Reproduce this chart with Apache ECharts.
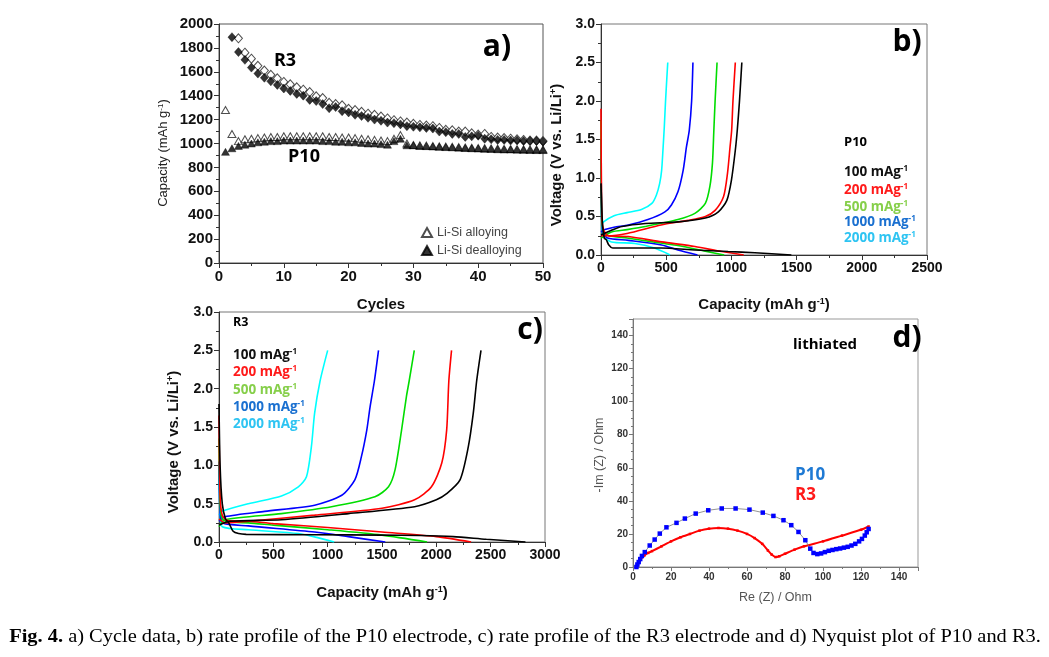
<!DOCTYPE html>
<html><head><meta charset="utf-8">
<script src="https://cdn.jsdelivr.net/npm/echarts@6/dist/echarts.min.js"></script>
<style>html,body{margin:0;padding:0;background:#fff}#c{width:1049px;height:657px}</style>
</head><body><div id="c"></div>
<script>
// ---------- Panel a: cycle data ----------
const cycles = [1,2,3,4,5,6,7,8,9,10,11,12,13,14,15,16,17,18,19,20,21,22,23,24,25,26,27,28,29,30,31,32,33,34,35,36,37,38,39,40,41,42,43,44,45,46,47,48,49,50];
const r3Alloying = [null,null,1880,1760,1710,1650,1610,1575,1545,1515,1495,1470,1450,1430,1395,1380,1340,1330,1320,1290,1280,1265,1250,1240,1225,1210,1195,1185,1175,1165,1155,1150,1145,1130,1115,1110,1100,1100,1085,1075,1080,1055,1050,1045,1040,1035,1030,1025,1025,1020];
const r3Dealloying = [null,1890,1765,1700,1635,1585,1550,1520,1490,1460,1440,1415,1400,1365,1355,1330,1295,1305,1270,1260,1240,1230,1215,1200,1190,1175,1170,1160,1145,1140,1135,1130,1125,1100,1095,1080,1080,1055,1060,1065,1040,1035,1030,1030,1025,1025,1020,1020,1020,1015];
const p10Alloying = [1280,1080,1020,1035,1040,1045,1050,1055,1055,1060,1060,1060,1060,1060,1060,1060,1055,1055,1050,1050,1045,1040,1035,1030,1025,1020,1040,1070,1000,988,984,982,979,976,974,972,970,967,965,963,961,959,957,955,954,953,952,951,950,950];
const p10Dealloying = [930,960,980,990,1000,1010,1015,1020,1020,1025,1025,1025,1025,1025,1025,1020,1020,1015,1015,1010,1010,1005,1000,1000,995,990,1020,1040,985,985,980,978,975,972,970,968,965,962,960,958,956,954,952,950,950,948,947,946,945,945];

// ---------- Panel b: P10 rate profile [capacity, voltage] ----------
const p10_100_dis  = [[0,0.93],[10,0.45],[25,0.22],[40,0.2],[60,0.13],[90,0.09],[160,0.09],[460,0.09],[720,0.065],[975,0.045],[1180,0.03],[1460,0.0]];
const p10_100_chg  = [[0,0.26],[80,0.32],[160,0.37],[340,0.41],[590,0.43],[800,0.48],[900,0.56],[965,0.71],[1000,0.97],[1030,1.36],[1045,1.62],[1062,2.0],[1080,2.5]];
const p10_200_dis  = [[0,1.9],[5,0.6],[15,0.35],[55,0.25],[210,0.24],[465,0.17],[720,0.11],[925,0.045],[1095,0.0]];
const p10_200_chg  = [[0,0.25],[50,0.25],[200,0.28],[460,0.39],[670,0.45],[800,0.5],[875,0.58],[940,0.76],[970,1.06],[990,1.41],[1002,1.62],[1012,2.0],[1030,2.5]];
const p10_500_dis  = [[0,1.75],[5,0.5],[20,0.3],[60,0.25],[200,0.22],[400,0.17],[600,0.12],[800,0.05],[945,0.0]];
const p10_500_chg  = [[0,0.22],[80,0.3],[200,0.33],[340,0.37],[590,0.46],[720,0.54],[800,0.67],[835,0.89],[855,1.2],[865,1.6],[875,2.0],[890,2.5]];
const p10_1000_dis = [[0,1.5],[5,0.5],[15,0.3],[50,0.22],[210,0.19],[465,0.13],[590,0.065],[740,0.0]];
const p10_1000_chg = [[0,0.3],[30,0.33],[100,0.36],[210,0.39],[360,0.46],[490,0.56],[540,0.65],[590,0.82],[630,1.1],[655,1.4],[677,1.62],[695,2.0],[705,2.5]];
const p10_2000_dis = [[0,1.25],[5,0.45],[15,0.25],[80,0.17],[260,0.15],[410,0.09],[530,0.0]];
const p10_2000_chg = [[0,0.38],[20,0.43],[100,0.51],[200,0.55],[310,0.59],[390,0.67],[425,0.78],[450,0.93],[465,1.1],[475,1.36],[485,1.65],[495,2.0],[505,2.3],[512,2.5]];

// ---------- Panel c: R3 rate profile ----------
const r3_100_dis  = [[0,1.8],[10,1.0],[30,0.5],[60,0.3],[90,0.25],[130,0.14],[180,0.11],[250,0.1],[880,0.095],[1500,0.09],[1850,0.085],[2155,0.07],[2460,0.035],[2820,0.0]];
const r3_100_chg  = [[0,0.22],[100,0.27],[575,0.29],[1190,0.37],[1800,0.46],[2000,0.55],[2095,0.63],[2218,0.81],[2294,1.24],[2340,1.68],[2371,2.1],[2411,2.5]];
const r3_200_dis  = [[0,1.65],[10,0.6],[30,0.35],[80,0.28],[270,0.27],[500,0.24],[1000,0.19],[1500,0.13],[2000,0.07],[2320,0.0]];
const r3_200_chg  = [[0,0.3],[60,0.25],[270,0.27],[880,0.35],[1500,0.44],[1800,0.55],[1955,0.72],[2050,1.03],[2095,1.46],[2115,2.1],[2140,2.5]];
const r3_500_dis  = [[0,1.35],[10,0.5],[30,0.3],[100,0.26],[270,0.25],[500,0.22],[1000,0.16],[1500,0.09],[1915,0.0]];
const r3_500_chg  = [[0,0.2],[55,0.29],[575,0.37],[1035,0.46],[1435,0.59],[1560,0.72],[1620,0.94],[1680,1.46],[1725,1.9],[1750,2.1],[1797,2.5]];
const r3_1000_dis = [[0,1.05],[10,0.4],[30,0.25],[270,0.21],[880,0.13],[1190,0.07],[1530,0.0]];
const r3_1000_chg = [[0,0.27],[55,0.33],[420,0.4],[880,0.48],[1130,0.61],[1250,0.81],[1310,1.11],[1360,1.46],[1390,1.76],[1430,2.1],[1468,2.5]];
const r3_2000_dis = [[0,0.95],[10,0.35],[30,0.2],[270,0.16],[730,0.11],[900,0.06],[1060,0.0]];
const r3_2000_chg = [[0,0.35],[25,0.4],[270,0.5],[575,0.6],[730,0.72],[805,0.85],[850,1.24],[880,1.68],[930,2.1],[1000,2.5]];

// ---------- Panel d: Nyquist [Re, -Im] ----------
const nyqP10 = [[1.8,0],[2.3,1.5],[3,3],[3.8,4.8],[4.7,6.7],[6.2,9],[8.8,13],[11.4,16.6],[14.1,20.2],[17.6,24],[22.9,26.7],[27.3,29.3],[33,32.3],[39.6,34.3],[46.7,35.4],[54,35.4],[61.3,34.7],[68.3,32.9],[73.9,30.9],[79.2,28.3],[83.3,25.3],[87.1,21.2],[90.7,16.2],[93.3,11.1],[95,8.5],[97,7.8],[99,8.2],[101,9],[103,9.8],[105,10.3],[107,10.8],[109,11.2],[111,11.7],[113,12.2],[115,13],[117,14],[119,15.5],[120.5,17],[122,19],[123,21],[124,23]];
const nyqR3 = [[2,0],[3,2.5],[4,4.5],[5,6],[6,7],[8,8.5],[10,9.6],[15,12.5],[20,15.5],[25,18],[30,20],[35,22],[40,23.2],[45,23.6],[50,23.2],[55,22],[60,20],[64,17.5],[68,14],[71,10],[73,7.5],[75,6],[77,6.5],[80,8],[85,10.5],[90,12.5],[100,15.5],[110,19],[120,22.5],[124,24.5]];

const rateColors = ['#000000','#ff0000','#00dd00','#0000ff','#00ffff'];
const rateLabels = ['100 mAg','200 mAg','500 mAg','1000 mAg','2000 mAg'];
const rateTextColors = ['#111111','#ff1a1a','#86cf4a','#1a70d0','#2ec4f2'];

const chart = echarts.init(document.getElementById('c'), null, {renderer:'canvas'});
const AX = '#333';
function vAxis(gi, min, max, interval, minorSplit, fs, fmt, extra){
  return Object.assign({
    type:'value', gridIndex:gi, min, max, interval,
    axisLine:{show:true, onZero:false, lineStyle:{color:AX,width:1}},
    axisTick:{show:true, inside:false, length:5, lineStyle:{color:AX}},
    minorTick:{show:true, splitNumber:minorSplit, length:3, lineStyle:{color:AX}},
    splitLine:{show:false}, minorSplitLine:{show:false},
    axisLabel:{fontSize:fs, fontWeight:'bold', color:'#111', margin:6, fontFamily:'Liberation Sans', formatter:fmt}
  }, extra||{});
}
const f1 = v => v.toFixed(1);
const f0 = v => String(v);

const pairs = arr => cycles.map((c,i)=> arr[i]==null ? [c,'-'] : [c,arr[i]]);

const series = [];
series.push({name:'R3 alloying', type:'scatter', xAxisIndex:0, yAxisIndex:0, symbol:'diamond', symbolSize:[8,9],
  itemStyle:{color:'#fff', borderColor:'#222', borderWidth:1}, data:pairs(r3Alloying), z:2});
series.push({name:'R3 dealloying', type:'scatter', xAxisIndex:0, yAxisIndex:0, symbol:'diamond', symbolSize:[8,9],
  itemStyle:{color:'#000', borderColor:'#000', borderWidth:0.5}, data:pairs(r3Dealloying), z:3});
series.push({name:'Li-Si alloying', type:'scatter', xAxisIndex:0, yAxisIndex:0, symbol:'triangle', symbolSize:[8,7],
  itemStyle:{color:'#fff', borderColor:'#222', borderWidth:1}, data:pairs(p10Alloying), z:2});
series.push({name:'Li-Si dealloying', type:'scatter', xAxisIndex:0, yAxisIndex:0, symbol:'triangle', symbolSize:[8,7],
  itemStyle:{color:'#000', borderColor:'#000', borderWidth:0.5}, data:pairs(p10Dealloying), z:3});

const bSets = [[p10_100_dis,p10_100_chg],[p10_200_dis,p10_200_chg],[p10_500_dis,p10_500_chg],[p10_1000_dis,p10_1000_chg],[p10_2000_dis,p10_2000_chg]];
const cSets = [[r3_100_dis,r3_100_chg],[r3_200_dis,r3_200_chg],[r3_500_dis,r3_500_chg],[r3_1000_dis,r3_1000_chg],[r3_2000_dis,r3_2000_chg]];
function addCurves(sets, axIdx, tag){
  sets.forEach((pr,i)=>{
    pr.forEach((d,j)=>{
      series.push({name:tag+rateLabels[i]+(j?' chg':' dis'), type:'line', xAxisIndex:axIdx, yAxisIndex:axIdx,
        data:d, showSymbol:false, smooth:0.25, lineStyle:{color:rateColors[i], width:1.6}, itemStyle:{color:rateColors[i]}, z:5-i});
    });
  });
}
addCurves(bSets,1,'P10 ');
addCurves(cSets,2,'R3 ');

series.push({name:'R3 nyq', type:'line', xAxisIndex:3, yAxisIndex:3, data:nyqR3, showSymbol:true, symbol:'rect', symbolSize:2.5,
  smooth:0.2, lineStyle:{color:'#ff0000', width:2}, itemStyle:{color:'#ff0000'}});
series.push({name:'P10 nyq', type:'line', xAxisIndex:3, yAxisIndex:3, data:nyqP10, showSymbol:true, symbol:'rect', symbolSize:4.5,
  lineStyle:{color:'#777', width:0.8}, itemStyle:{color:'#0000ff'}});

const OS = 'Open Sans';
function txt(x,y,text,opts){
  return {type:'text', x, y, z:100, rotation:opts.rot||0, scaleX:opts.sx||1,
    style:Object.assign({text, fill:opts.color||'#000', font:(opts.weight||'bold')+' '+opts.size+'px "'+(opts.family||OS)+'"',
      align:opts.align||'left', verticalAlign:'middle'}, opts.rich?{rich:opts.rich}:{})};
}
function supRich(size, color, weight, family){
  return {sup:{fontSize:Math.round(size*0.6), fontWeight:weight||'bold', fill:color, color:color, fontFamily:family||OS, verticalAlign:'top', padding:[0,0,Math.round(size*0.35),0]},
          n:{fontSize:size, fontWeight:weight||'bold', fill:color, color:color, fontFamily:family||OS}};
}
const graphics = [];
// panel labels
graphics.push(txt(497,47,'a)',{size:30,align:'center'}));
graphics.push(txt(907,42,'b)',{size:30,align:'center'}));
graphics.push(txt(530,330,'c)',{size:30,align:'center'}));
graphics.push(txt(907,338,'d)',{size:30,align:'center'}));
// panel a annotations
graphics.push(txt(285,61,'R3',{size:18,align:'center'}));
graphics.push(txt(304,157,'P10',{size:18,align:'center'}));
// panel b
graphics.push(txt(844,142,'P10',{size:13}));
rateLabels.forEach((l,i)=>{
  graphics.push(txt(844,[172,190,207,222,238][i],'{n|'+l+'}{sup|-1}',{size:13.5,color:rateTextColors[i],rich:supRich(13.5,rateTextColors[i])}));
  graphics.push(txt(233,[355,372,390,407,424][i],'{n|'+l+'}{sup|-1}',{size:13.5,color:rateTextColors[i],rich:supRich(13.5,rateTextColors[i])}));
});
graphics.push(txt(233,322,'R3',{size:12.5}));
// panel d
graphics.push(txt(825,345,'lithiated',{size:15,align:'center'}));
graphics.push(txt(795,475,'P10',{size:17,color:'#1f7ad4'}));
graphics.push(txt(795,495,'R3',{size:17,color:'#ff1a1a'}));
// axis titles (rotated)
graphics.push(txt(163,153,'{n|Capacity (mAh g}{sup|-1}{n|)}',{size:13,weight:'normal',family:'Liberation Sans',align:'center',rot:Math.PI/2,rich:supRich(13,'#222','normal','Liberation Sans')}));
graphics.push(txt(557,155,'{n|Voltage (V vs. Li/Li}{sup|+}{n|)}',{size:15,family:'Liberation Sans',align:'center',rot:Math.PI/2,rich:supRich(15,'#111','bold','Liberation Sans')}));
graphics.push(txt(174,442,'{n|Voltage (V vs. Li/Li}{sup|+}{n|)}',{size:15,family:'Liberation Sans',align:'center',rot:Math.PI/2,rich:supRich(15,'#111','bold','Liberation Sans')}));
graphics.push(txt(600,455,'-Im (Z) / Ohm',{size:12.5,weight:'normal',family:'Liberation Sans',color:'#555',align:'center',rot:Math.PI/2}));
// caption
graphics.push({type:'text', x:525, y:637, z:100, scaleX:1.075, style:{text:'{b|Fig. 4.} a) Cycle data, b) rate profile of the P10 electrode, c) rate profile of the R3 electrode and d) Nyquist plot of P10 and R3.',
  font:'19px "Liberation Serif"', fill:'#000', align:'center', verticalAlign:'middle',
  rich:{b:{fontWeight:'bold', fontSize:19, fontFamily:'Liberation Serif', fill:'#000'}}}});

const supName = () => ({nameTextStyle:{fontSize:15, fontWeight:'bold', color:'#111', fontFamily:'Liberation Sans',
  rich:{sup:{fontSize:9, fontWeight:'bold', verticalAlign:'top', padding:[0,0,5,0]}}}});

chart.setOption({
  animation:false, backgroundColor:'#fff',
  textStyle:{fontFamily:'Liberation Sans'},
  grid:[
    {left:219, top:24, width:324, height:239, show:true, borderColor:'#555', borderWidth:1},
    {left:601, top:24, width:326, height:231, show:true, borderColor:'#777', borderWidth:1},
    {left:219, top:312, width:326, height:230, show:true, borderColor:'#777', borderWidth:1},
    {left:633, top:319, width:285, height:248, show:true, borderColor:'#999', borderWidth:1}
  ],
  xAxis:[
    vAxis(0,0,50,10,2,15,f0,{name:'Cycles', nameLocation:'middle', nameGap:34, nameTextStyle:{fontSize:15,fontWeight:'bold',color:'#111'}}),
    vAxis(1,0,2500,500,2,14,f0,Object.assign({name:'Capacity (mAh g{sup|-1})', nameLocation:'middle', nameGap:42}, supName())),
    vAxis(2,0,3000,500,2,14,f0,Object.assign({name:'Capacity (mAh g{sup|-1})', nameLocation:'middle', nameGap:43}, supName())),
    vAxis(3,0,150,20,2,10,f0,{name:'Re (Z) / Ohm', nameLocation:'middle', nameGap:24, nameTextStyle:{fontSize:12.5,color:'#555'},
      axisLabel:{fontSize:10,fontWeight:'bold',color:'#333',margin:5,showMaxLabel:false}, axisLine:{show:true,lineStyle:{color:'#777'}}, axisTick:{length:4,lineStyle:{color:'#777'}}, minorTick:{show:true,splitNumber:2,length:2,lineStyle:{color:'#777'}}})
  ],
  yAxis:[
    vAxis(0,0,2000,200,2,15,f0),
    vAxis(1,0,3,0.5,2,14,f1),
    vAxis(2,0,3,0.5,2,14,f1),
    vAxis(3,0,150,20,4,10,f0,{axisLabel:{fontSize:10,fontWeight:'bold',color:'#333',margin:5,showMaxLabel:false}, axisLine:{show:true,lineStyle:{color:'#777'}}, axisTick:{length:4,lineStyle:{color:'#777'}}, minorTick:{show:true,splitNumber:4,length:2,lineStyle:{color:'#777'}}})
  ],
  legend:{data:['Li-Si alloying','Li-Si dealloying'], orient:'vertical', left:416, top:221, itemWidth:10, itemHeight:9, itemGap:5,
    textStyle:{fontSize:12.5, color:'#444', fontFamily:'Liberation Sans'}, selectedMode:false},
  series,
  graphic:graphics
});
</script></body></html>
